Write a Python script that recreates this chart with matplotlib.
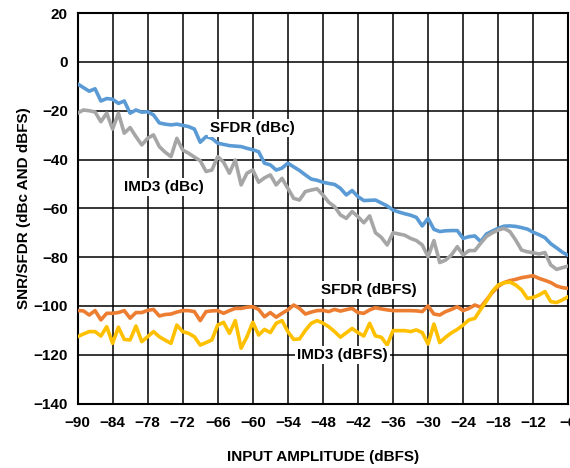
import matplotlib
matplotlib.use("Agg")
import matplotlib.pyplot as plt
import numpy as np

plt.rcParams['font.family'] = ['Liberation Sans', 'DejaVu Sans']
plt.rcParams['font.weight'] = 'bold'

# input amplitude, dBFS
amp = list(range(-90, -5))

sfdr_dbc = [-9, -10.5, -12, -11, -16, -15, -15.3, -17, -16, -21,
            -19.7, -20.6, -20.4, -21.7, -25, -25.5, -25.8, -25.5, -26, -26.5,
            -27.5, -32.9, -30.6, -31.3, -33.3, -33.8, -34.3, -34.5, -34.7, -35.4,
            -36, -36.8, -41.5, -42.2, -44.3, -43.5, -41.5, -43, -44.5, -46.3,
            -48, -48.5, -49.3, -49.8, -50.2, -51.8, -54.5, -52.7, -55.2, -56.8,
            -56.7, -56.6, -57.8, -59, -60.7, -61.5, -62.2, -62.8, -63.7, -67.2,
            -64.1, -68.6, -69.5, -69.2, -69.1, -69.1, -72.3, -71.6, -71.3, -73.6,
            -70.5, -69.3, -68.2, -67.3, -67.2, -67.4, -67.9, -68.5, -69.8, -70.8,
            -72, -74.5, -76.2, -78, -79.3]

imd3_dbc = [-21, -19.7, -20, -20.5, -24.5, -21, -27.5, -21, -29.2, -26.9,
            -30.6, -34, -31.3, -29.9, -34.7, -37, -38.8, -31.3, -36.1, -37.4,
            -39, -40.5, -44.9, -44.3, -38.8, -41.1, -45.6, -40.2, -50.4, -45.6,
            -44.3, -49.3, -47.5, -46.3, -50.4, -47.7, -51.8, -55.9, -56.6, -53.1,
            -52.5, -52, -54.5, -57.5, -59.3, -62.7, -64.1, -61.3, -63.4, -65.9,
            -63.1, -70, -71.9, -75, -70, -70.5, -71, -72.3, -73.2, -75,
            -79.8, -73.2, -82.2, -81.2, -79.1, -75.7, -79.1, -77.3, -77.3, -74.3,
            -71.5, -70, -68.9, -68.2, -69.5, -73, -77.1, -77.8, -78.2, -78.7,
            -78.1, -83.2, -85, -84.3, -83.6]

sfdr_dbfs = [-101.9, -102, -103.7, -101.9, -105.7, -103, -103, -102.7, -101.9, -105,
             -102.7, -102.7, -101.8, -101.4, -104.1, -103.5, -103.3, -102.5, -101.9, -101.9,
             -102.3, -106, -102.3, -102, -101.9, -103, -101.9, -101, -101, -100.5,
             -100.3, -101.4, -104.4, -102.7, -104.6, -103, -101.6, -99.6, -101, -103.3,
             -102.5, -101.9, -101.8, -102.3, -101.4, -102.1, -101.5, -101, -102.7, -103,
             -101.6, -100.7, -101.2, -101.6, -101.9, -101.9, -101.9, -101.9, -102, -102.3,
             -100, -103.3, -103.7, -102.3, -101.4, -100.3, -101.9, -101, -99.6, -100.5,
             -97.5, -94.5, -92, -90.4, -89.6, -89.1, -88.4, -88, -87.6, -88.7,
             -89.5, -90.4, -91.8, -92.5, -92.8]

imd3_dbfs = [-112.6, -111.5, -110.5, -110.5, -112.3, -108.5, -115.3, -108.7, -113.7, -113.9,
             -108.2, -114.6, -112.6, -110.5, -112.6, -114, -115.3, -107.8, -110.5, -111.2,
             -112.6, -116, -115, -113.9, -107.8, -106.7, -111.2, -106, -117.3, -112.6,
             -106.7, -111.9, -109.6, -110.9, -107.1, -106, -110.5, -113.7, -113.5, -110,
             -107.1, -106, -107, -108.5, -110.5, -112.8, -111, -109.2, -110.9, -112.3,
             -107.1, -112.3, -112.8, -116, -110.1, -110.1, -110.1, -110.5, -109.8, -110.9,
             -115.6, -107.4, -115, -112.8, -111, -109.6, -107.8, -105.7, -105.1, -101.4,
             -98, -94, -91.4, -90.5, -90.2, -91.4, -93.4, -96.9, -96.5, -95.5,
             -94.1, -98.2, -98.6, -97.5, -96.2]

fig = plt.figure(figsize=(5.7, 4.68), dpi=100)
ax = fig.add_axes([0.136, 0.1376, 0.861, 0.8344])

lw = 2.6
ax.plot(amp, sfdr_dbc, color='#5B9BD5', lw=lw, zorder=3)
ax.plot(amp, imd3_dbc, color='#A6A6A6', lw=lw, zorder=3)
ax.plot(amp, sfdr_dbfs, color='#ED7D31', lw=lw, zorder=3)
ax.plot(amp, imd3_dbfs, color='#FFC000', lw=lw, zorder=3)

box = dict(facecolor='white', edgecolor='none', pad=1.5)
ax.text(-67.3, -27, 'SFDR (dBc)', fontsize=11, fontweight='bold', va='center', bbox=box, zorder=4)
ax.text(-82.0, -51.2, 'IMD3 (dBc)', fontsize=11, fontweight='bold', va='center', bbox=box, zorder=4)
ax.text(-48.3, -93.4, 'SFDR (dBFS)', fontsize=11, fontweight='bold', va='center', bbox=box, zorder=4)
ax.text(-52.4, -120, 'IMD3 (dBFS)', fontsize=11, fontweight='bold', va='center', bbox=box, zorder=4)

ax.set_xlim(-90, -6)
ax.set_ylim(-140, 20)
ax.set_xticks(np.arange(-90, -5, 6))
ax.set_yticks(np.arange(-140, 21, 20))
ax.grid(True, color='black', lw=1.1, zorder=1)
ax.set_axisbelow(True)
ax.tick_params(length=0, labelsize=11)
ax.tick_params(axis='x', pad=9)
ax.tick_params(axis='y', pad=7)
for lab in ax.get_xticklabels() + ax.get_yticklabels():
    lab.set_fontweight('bold')
for sp in ax.spines.values():
    sp.set_linewidth(1.5)

ax.set_xlabel('INPUT AMPLITUDE (dBFS)', fontsize=11, fontweight='bold', labelpad=14)
ax.set_ylabel('SNR/SFDR (dBc AND dBFS)', fontsize=11, fontweight='bold', labelpad=2)

fig.savefig('out.png', dpi=100)
